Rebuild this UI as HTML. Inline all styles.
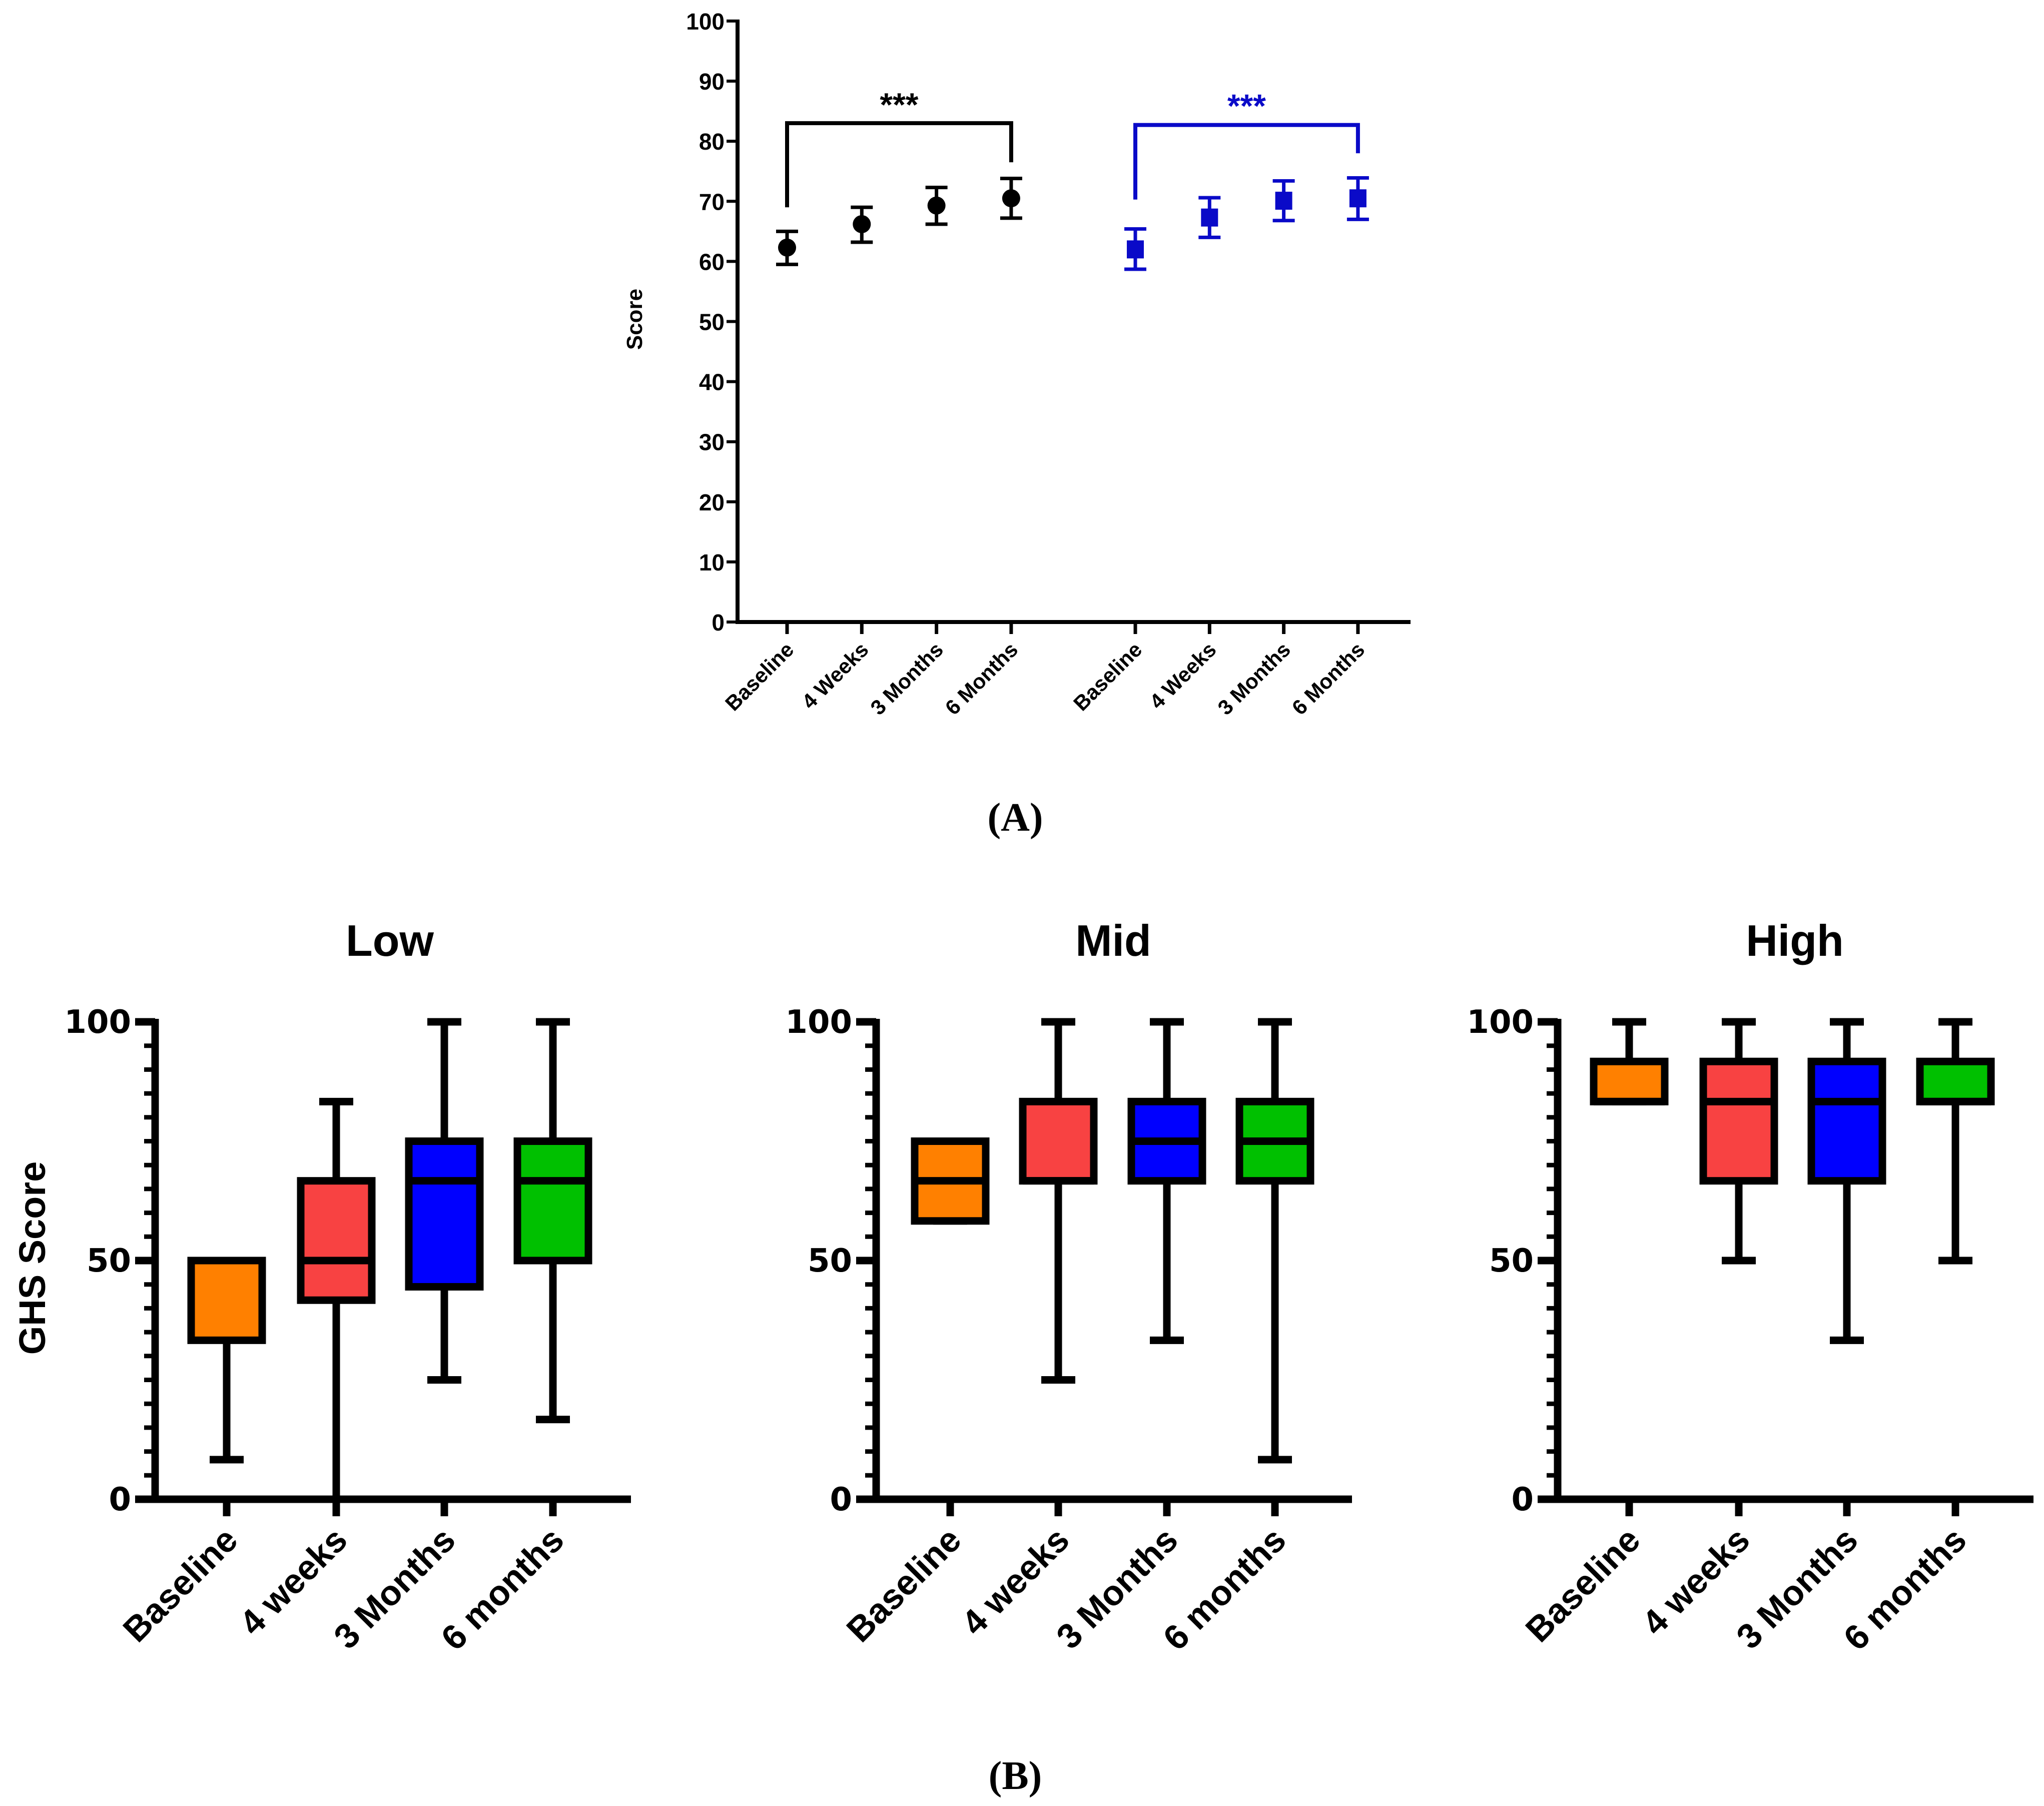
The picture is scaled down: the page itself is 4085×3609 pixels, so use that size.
<!DOCTYPE html>
<html><head><meta charset="utf-8"><style>
html,body{margin:0;padding:0;background:#fff;}
svg{display:block;}
text{font-family:"Liberation Sans",Arial,sans-serif;font-weight:bold;}
</style></head>
<body>
<svg id="fig" width="4085" height="3609" viewBox="0 0 4085 3609" xmlns="http://www.w3.org/2000/svg">
<g id="panelA"></g>
<g id="panelB"></g>
<text x="2029" y="1660" text-anchor="middle" font-size="80" style="font-family:'Liberation Serif',serif">(A)</text>
<text x="2029" y="3575" text-anchor="middle" font-size="80" style="font-family:'Liberation Serif',serif">(B)</text>
</svg>
<script>
// ---- Panel A data ----
const aCategories = ["Baseline","4 Weeks","3 Months","6 Months"];
const aBlackMeans = [62.3, 66.2, 69.3, 70.5];
const aBlackLow = [59.5, 63.2, 66.2, 67.2];
const aBlackHigh = [65.0, 69.0, 72.3, 73.8];
const aBlueMeans = [62.0, 67.3, 70.1, 70.5];
const aBlueLow = [58.7, 64.0, 66.8, 67.0];
const aBlueHigh = [65.4, 70.6, 73.4, 73.9];
const aYTicks = [0,10,20,30,40,50,60,70,80,90,100];
// ---- Panel B data ----
const bGroups = ["Low","Mid","High"];
const bCategories = ["Baseline","4 weeks","3 Months","6 months"];
const bLowMin = [8.3, 0, 25, 16.7];
const bLowQ1 = [33.3, 41.7, 44.5, 50];
const bLowMed = [50, 50, 66.7, 66.7];
const bLowQ3 = [50, 66.7, 75, 75];
const bLowMax = [50, 83.3, 100, 100];
const bMidMin = [58.3, 25, 33.3, 8.3];
const bMidQ1 = [58.3, 66.7, 66.7, 66.7];
const bMidMed = [66.7, 66.7, 75, 75];
const bMidQ3 = [75, 83.3, 83.3, 83.3];
const bMidMax = [75, 100, 100, 100];
const bHighMin = [83.3, 50, 33.3, 50];
const bHighQ1 = [83.3, 66.7, 66.7, 83.3];
const bHighMed = [83.3, 83.3, 83.3, 83.3];
const bHighQ3 = [91.7, 91.7, 91.7, 91.7];
const bHighMax = [100, 100, 100, 100];
const bYTicks = [0,50,100];

const NS="http://www.w3.org/2000/svg";
function mk(parent,tag,attrs,text){const e=document.createElementNS(NS,tag);for(const k in attrs)e.setAttribute(k,attrs[k]);if(text!==undefined)e.textContent=text;parent.appendChild(e);return e;}

// ===== Panel A =====
(function(){
const g=document.getElementById('panelA');
const x0=1474,xEnd=2819,yBase=1243,yTop=42;
const y=v=>yBase-(yBase-yTop)*v/100;
const blackX=i=>1573+i*149.3;
const blueX=i=>2269+i*148.3;
let e=mk(g,'line',{x1:x0,y1:yTop-3,x2:x0,y2:yBase+4,stroke:'#000','stroke-width':8});

e=mk(g,'line',{x1:x0-4,y1:yBase,x2:xEnd,y2:yBase,stroke:'#000','stroke-width':8});

aYTicks.forEach(t=>{
  let l=mk(g,'line',{x1:x0-22,y1:y(t),x2:x0,y2:y(t),stroke:'#000','stroke-width':6});
  
  let tx=mk(g,'text',{x:x0-26,y:y(t)+17,'text-anchor':'end','font-size':46},String(t));
  
});
let yl=mk(g,'text',{x:0,y:0,'text-anchor':'middle','font-size':44,transform:'translate(1283,638) rotate(-90)'},'Score');

function series(xf,means,lo,hi,color,shape,nm){
  aCategories.forEach((c,i)=>{
    const cx=xf(i);
    let t=mk(g,'line',{x1:cx,y1:yBase,x2:cx,y2:yBase+24,stroke:'#000','stroke-width':7});
    
    let lab=mk(g,'text',{x:0,y:0,'text-anchor':'end','font-size':42,transform:`translate(${cx+16},${yBase+58}) rotate(-45)`},c);
    
    let eb=mk(g,'path',{d:`M${cx},${y(lo[i])}V${y(hi[i])}M${cx-22},${y(lo[i])}H${cx+22}M${cx-22},${y(hi[i])}H${cx+22}`,stroke:color,'stroke-width':7,fill:'none'});
    
    let m;
    if(shape==='circle') m=mk(g,'circle',{cx:cx,cy:y(means[i]),r:18,fill:color});
    else m=mk(g,'rect',{x:cx-17,y:y(means[i])-18,width:34,height:36,fill:color});
    
  });
}
series(blackX,aBlackMeans,aBlackLow,aBlackHigh,'#000','circle','black-series');
series(blueX,aBlueMeans,aBlueLow,aBlueHigh,'#0a0ac8','square','blue-series');
let b1=mk(g,'path',{d:`M${blackX(0)},${y(69)}V${y(83)}H${blackX(3)}V${y(76.5)}`,stroke:'#000','stroke-width':8,fill:'none'});

let s1=mk(g,'text',{x:(blackX(0)+blackX(3))/2,y:y(85)+10,'text-anchor':'middle','font-size':66},'***');

let b2=mk(g,'path',{d:`M${blueX(0)},${y(70.3)}V${y(82.7)}H${blueX(3)}V${y(78)}`,stroke:'#0a0ac8','stroke-width':8,fill:'none'});

let s2=mk(g,'text',{x:(blueX(0)+blueX(3))/2,y:y(84.8)+10,'text-anchor':'middle','font-size':66,fill:'#0a0ac8'},'***');

})();

// ===== Panel B =====
(function(){
const g=document.getElementById('panelB');
const colors=['#FF8000','#F84242','#0000FF','#00C000'];
const panels=[
 {name:'Low',ax:310,xs:[453,672,888,1105],end:1261,title:779,mn:bLowMin,q1:bLowQ1,md:bLowMed,q3:bLowQ3,mx:bLowMax},
 {name:'Mid',ax:1751,xs:[1899,2115,2332,2548],end:2702,title:2225,mn:bMidMin,q1:bMidQ1,md:bMidMed,q3:bMidQ3,mx:bMidMax},
 {name:'High',ax:3113,xs:[3256,3475,3691,3908],end:4064,title:3587,mn:bHighMin,q1:bHighQ1,md:bHighMed,q3:bHighQ3,mx:bHighMax}];
const yBase=2996,yTop=2042;
const y=v=>yBase-(yBase-yTop)*v/100;
const lw=15,bw=142;
panels.forEach((p,pi)=>{
  const gp=mk(g,'g',{});
  
  let t=mk(gp,'text',{x:p.title,y:1910,'text-anchor':'middle','font-size':88},bGroups[pi]);
  
  let ya=mk(gp,'line',{x1:p.ax,y1:yTop-6,x2:p.ax,y2:yBase+6,stroke:'#000','stroke-width':lw});
  
  let xa=mk(gp,'line',{x1:p.ax-40,y1:yBase,x2:p.end,y2:yBase,stroke:'#000','stroke-width':lw});
  
  for(let v=0;v<=100;v+=5){
    const major=bYTicks.indexOf(v)>=0;
    let tk=mk(gp,'line',{x1:p.ax-(major?40:22),y1:y(v),x2:p.ax,y2:y(v),stroke:'#000','stroke-width':major?lw:9});
    
  }
  bYTicks.forEach(v=>{
    let tl=mk(gp,'text',{x:p.ax-48,y:y(v)+22,'text-anchor':'end','font-size':64,style:'font-family:"DejaVu Sans",sans-serif;font-weight:bold'},String(v));
    
  });
  bCategories.forEach((c,i)=>{
    const cx=p.xs[i];
    let tk=mk(gp,'line',{x1:cx,y1:yBase,x2:cx,y2:yBase+34,stroke:'#000','stroke-width':lw});
    
    let lb=mk(gp,'text',{x:0,y:0,'text-anchor':'end','font-size':70,transform:`translate(${cx+26},${yBase+86}) rotate(-45)`},c);
    
    let wh=mk(gp,'path',{d:`M${cx},${y(p.mn[i])}V${y(p.q1[i])}M${cx},${y(p.q3[i])}V${y(p.mx[i])}M${cx-34},${y(p.mn[i])}H${cx+34}M${cx-34},${y(p.mx[i])}H${cx+34}`,stroke:'#000','stroke-width':lw,fill:'none'});
    
    let bx=mk(gp,'rect',{x:cx-bw/2,y:y(p.q3[i]),width:bw,height:Math.max(0,y(p.q1[i])-y(p.q3[i])),fill:colors[i],stroke:'#000','stroke-width':lw});
    
    let md=mk(gp,'line',{x1:cx-bw/2,y1:y(p.md[i]),x2:cx+bw/2,y2:y(p.md[i]),stroke:'#000','stroke-width':lw});
    
  });
});
let yt=mk(g,'text',{x:0,y:0,'text-anchor':'middle','font-size':74,transform:'translate(90,2514) rotate(-90)'},'GHS Score');

})();
</script>
</body></html>
